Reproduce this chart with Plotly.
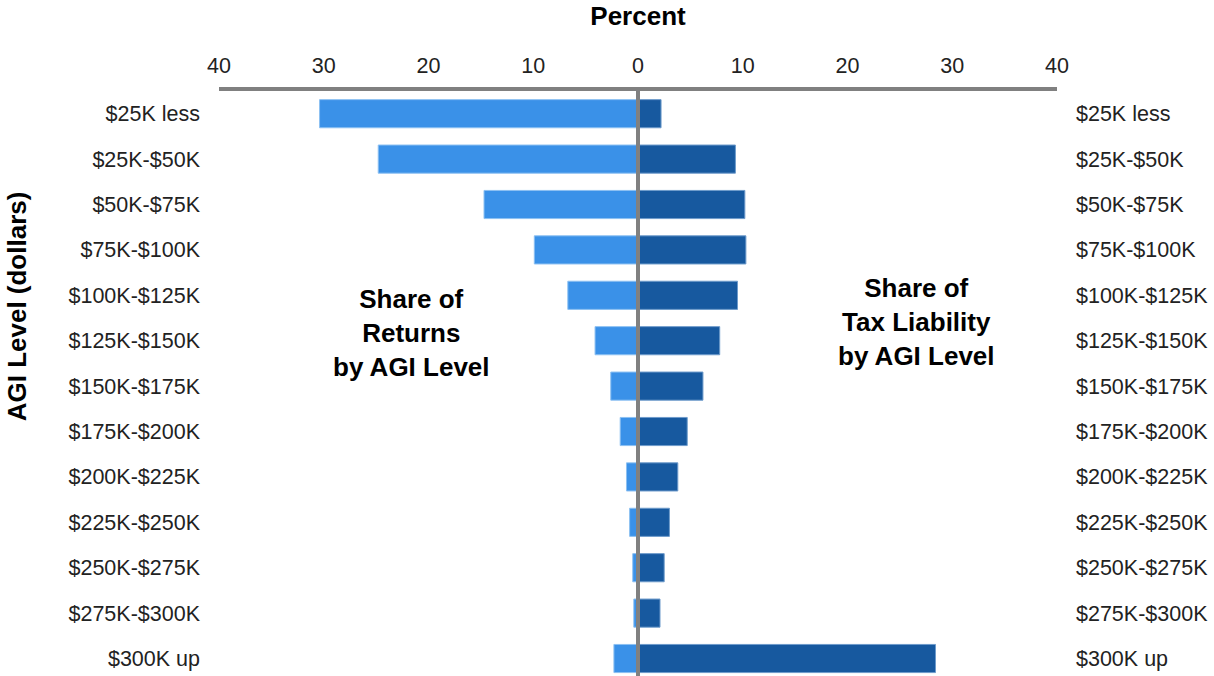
import plotly.graph_objects as go

# AGI brackets, top to bottom
brackets = ["$25K less", "$25K-$50K", "$50K-$75K", "$75K-$100K", "$100K-$125K",
            "$125K-$150K", "$150K-$175K", "$175K-$200K", "$200K-$225K",
            "$225K-$250K", "$250K-$275K", "$275K-$300K", "$300K up"]

# Percent of all returns in each bracket
share_returns = [30.4, 24.8, 14.7, 9.9, 6.7, 4.1, 2.6, 1.7, 1.1, 0.8, 0.5, 0.4, 2.3]
# Percent of total tax liability in each bracket
share_tax = [2.2, 9.3, 10.2, 10.3, 9.5, 7.8, 6.2, 4.7, 3.8, 3.0, 2.5, 2.1, 28.4]

x_ticks = [-40, -30, -20, -10, 0, 10, 20, 30, 40]
x_ticktext = ["40", "30", "20", "10", "0", "10", "20", "30", "40"]

FONT = "Liberation Sans, Arial, sans-serif"
LIGHT = "#3A91E8"
DARK = "#17599F"
GRAY = "#808080"

pos = list(range(len(brackets)))
y_range = [12.385, -0.5]

fig = go.Figure()
fig.add_trace(go.Bar(
    y=pos, x=[-v for v in share_returns], orientation="h", width=0.62,
    marker=dict(color=LIGHT, line=dict(color="#8CC0F2", width=1)),
    name="Share of Returns", yaxis="y", hoverinfo="skip",
))
fig.add_trace(go.Bar(
    y=pos, x=share_tax, orientation="h", width=0.62,
    marker=dict(color=DARK, line=dict(color="#6E9BCB", width=1)),
    name="Share of Tax Liability", yaxis="y2", hoverinfo="skip",
))

tickfont = dict(family=FONT, size=21.5, color="#222222")
boldfont = dict(family=FONT, size=26, color="#000000")

fig.update_layout(
    width=1214, height=676,
    margin=dict(l=219, r=157, t=91, b=0, pad=0),
    paper_bgcolor="white", plot_bgcolor="white",
    barmode="overlay", showlegend=False,
    xaxis=dict(
        range=[-40, 40], side="top", tickvals=x_ticks, ticktext=x_ticktext,
        tickfont=tickfont, showgrid=False, zeroline=False,
        showline=True, linecolor=GRAY, linewidth=4, ticks="",
        ticklabelstandoff=5,
        title=dict(text="<b>Percent</b>", font=boldfont, standoff=22),
    ),
    yaxis=dict(
        range=y_range, tickvals=pos, ticktext=brackets, tickfont=tickfont,
        showgrid=False, zeroline=False, showline=False, ticks="",
        ticklabelstandoff=18,
    ),
    yaxis2=dict(
        range=y_range, tickvals=pos, ticktext=brackets, tickfont=tickfont,
        overlaying="y", side="right", showgrid=False, zeroline=False,
        showline=False, ticks="", ticklabelstandoff=18,
    ),
    shapes=[dict(
        type="line", xref="x", yref="paper", x0=0, x1=0, y0=0, y1=1,
        line=dict(color=GRAY, width=4), layer="above",
    )],
    annotations=[
        dict(text="<b>AGI Level (dollars)</b>", xref="paper", yref="paper",
             x=-0.241, y=0.632, textangle=-90, showarrow=False,
             font=boldfont, xanchor="center", yanchor="middle"),
        dict(text="<b>Share of<br>Returns<br>by AGI Level</b>", xref="x", yref="y",
             x=-21.6, y=4.83, showarrow=False, font=boldfont,
             align="center", xanchor="center", yanchor="middle"),
        dict(text="<b>Share of<br>Tax Liability<br>by AGI Level</b>", xref="x", yref="y",
             x=26.6, y=4.59, showarrow=False, font=boldfont,
             align="center", xanchor="center", yanchor="middle"),
    ],
)

fig.write_html("out.html")
